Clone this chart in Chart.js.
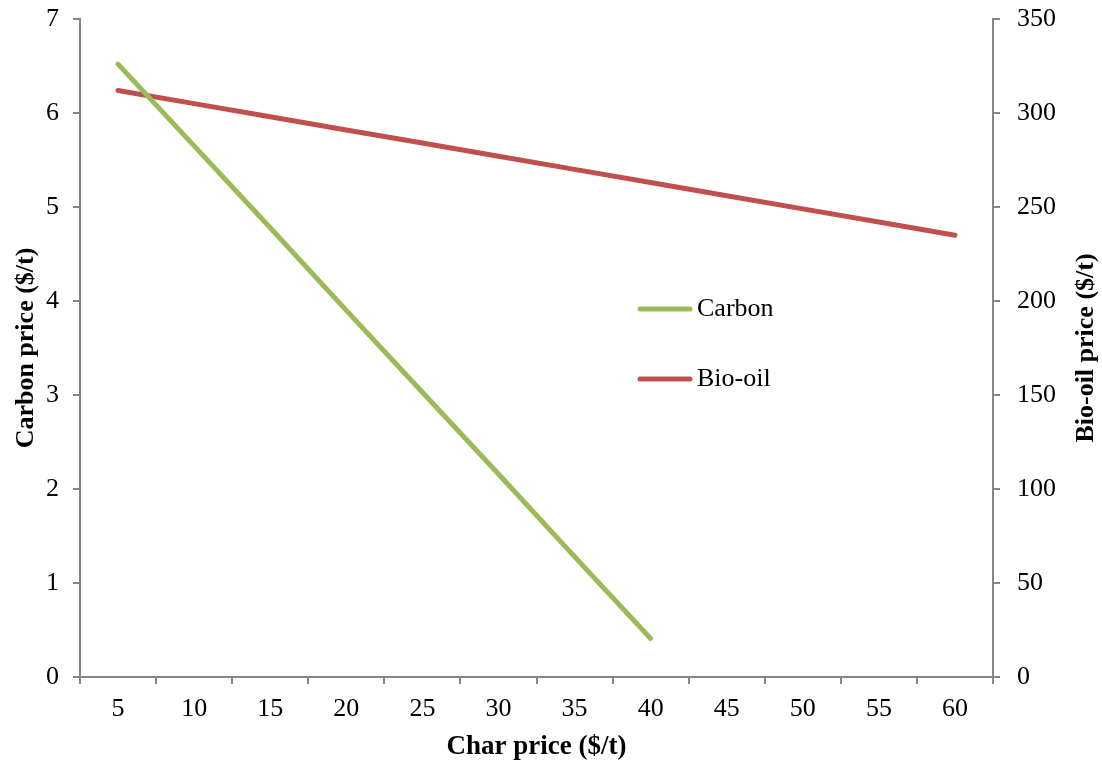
<!DOCTYPE html>
<html>
<head>
<meta charset="utf-8">
<script src="https://cdn.jsdelivr.net/npm/chart.js@4/dist/chart.umd.min.js"></script>
<style>
    html, body { margin: 0; padding: 0; background: #fff; }
    #wrap { width: 1102px; height: 767px; }
</style>
</head>
<body>
<div id="wrap"><canvas id="chart" width="1102" height="767"></canvas></div>
<script>
// datos
const charPrices = ['5', '10', '15', '20', '25', '30', '35', '40', '45', '50', '55', '60'];
const carbonPrice = [6.52, 5.65, 4.78, 3.9, 3.03, 2.16, 1.28, 0.41, null, null, null, null];
const bioOilPrice = [312, 305, 298, 291, 284, 277, 270, 263, 256, 249, 242, 235];

const FONT = '"Liberation Serif", "DejaVu Serif", serif';
const AXIS_GRAY = '#868686';
const GREEN = '#9BBB59';
const RED = '#C0504D';

// titulos de los ejes Y (ambos leen de abajo hacia arriba)
const yTitles = {
    id: 'yTitles',
    afterDraw(chart) {
        const { ctx, chartArea } = chart;
        const midY = (chartArea.top + chartArea.bottom) / 2;
        ctx.save();
        ctx.font = 'bold 26px ' + FONT;
        ctx.fillStyle = '#000';
        ctx.textAlign = 'center';
        ctx.textBaseline = 'middle';
        [[26, 'Carbon price ($/t)'], [1086, 'Bio-oil price ($/t)']].forEach(([x, txt]) => {
            ctx.save();
            ctx.translate(x, midY);
            ctx.rotate(-Math.PI / 2);
            ctx.fillText(txt, 0, 0);
            ctx.restore();
        });
        ctx.restore();
    }
};

// leyenda dentro del area del grafico
const insideLegend = {
    id: 'insideLegend',
    afterDraw(chart) {
        const { ctx } = chart;
        const items = [[GREEN, 'Carbon', 309], [RED, 'Bio-oil', 379]];
        ctx.save();
        ctx.font = '26px ' + FONT;
        ctx.textBaseline = 'middle';
        ctx.lineCap = 'round';
        ctx.lineWidth = 5;
        items.forEach(([color, label, y]) => {
            ctx.strokeStyle = color;
            ctx.beginPath();
            ctx.moveTo(640, y);
            ctx.lineTo(690, y);
            ctx.stroke();
            ctx.fillStyle = '#000';
            ctx.fillText(label, 697, y);
        });
        ctx.restore();
    }
};

const axisGrid = {
    drawOnChartArea: false,
    drawTicks: true,
    tickLength: 7,
    color: AXIS_GRAY,
    tickColor: AXIS_GRAY,
    lineWidth: 2
};

// tamaños fijos de los ejes, sin relleno extra por las etiquetas
function fixY(width) {
    return (scale) => {
        scale.width = width;
        scale.paddingTop = 0;
        scale.paddingBottom = 0;
    };
}

new Chart(document.getElementById('chart'), {
    type: 'line',
    data: {
        labels: charPrices,
        datasets: [
            {
                label: 'Carbon',
                data: carbonPrice,
                borderColor: GREEN,
                backgroundColor: GREEN,
                borderWidth: 5,
                borderCapStyle: 'round',
                pointRadius: 0,
                yAxisID: 'y',
                spanGaps: false
            },
            {
                label: 'Bio-oil',
                data: bioOilPrice,
                borderColor: RED,
                backgroundColor: RED,
                borderWidth: 5,
                borderCapStyle: 'round',
                pointRadius: 0,
                yAxisID: 'y1'
            }
        ]
    },
    options: {
        responsive: false,
        animation: false,
        layout: { padding: { top: 19, right: 0, left: 0, bottom: 0 } },
        plugins: {
            legend: { display: false },
            tooltip: { enabled: false }
        },
        scales: {
            x: {
                offset: true,
                grid: { ...axisGrid, offset: true },
                border: { color: AXIS_GRAY, width: 2 },
                ticks: { color: '#000', font: { family: FONT, size: 26 }, padding: 10, maxRotation: 0 },
                title: {
                    display: true,
                    text: 'Char price ($/t)',
                    color: '#000',
                    font: { family: FONT, size: 27, weight: 'bold' },
                    padding: { top: 4, bottom: 4 }
                },
                afterFit(scale) {
                    scale.height = 90;
                    scale.paddingLeft = 0;
                    scale.paddingRight = 0;
                }
            },
            y: {
                position: 'left',
                min: 0,
                max: 7,
                ticks: { stepSize: 1, color: '#000', font: { family: FONT, size: 26 }, padding: 14 },
                grid: axisGrid,
                border: { color: AXIS_GRAY, width: 2 },
                afterFit: fixY(80)
            },
            y1: {
                position: 'right',
                min: 0,
                max: 350,
                ticks: { stepSize: 50, color: '#000', font: { family: FONT, size: 26 }, padding: 17 },
                grid: axisGrid,
                border: { color: AXIS_GRAY, width: 2 },
                afterFit: fixY(109)
            }
        }
    },
    plugins: [yTitles, insideLegend]
});
</script>
</body>
</html>
